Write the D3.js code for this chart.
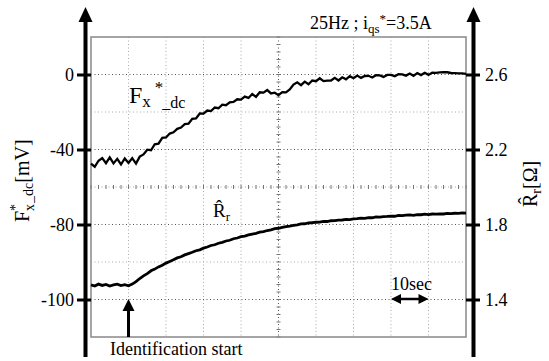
<!DOCTYPE html>
<html><head><meta charset="utf-8">
<script src="https://cdn.jsdelivr.net/npm/d3@7"></script>
<style>
body{margin:0;background:#fff}
svg{display:block}
text{font-family:"Liberation Serif","Times New Roman","DejaVu Serif",serif !important;fill:#000}
</style>
</head><body>
<svg id="c" width="549" height="361"></svg>
<script>
// ---- data (time in seconds, one sample per second) ----
const fxValues = [-47.5,-49.2,-46.0,-44.6,-47.3,-44.2,-47.4,-45.0,-48.0,-44.8,-47.2,-44.6,-47.5,-43.8,
 -42.6,-40.1,-40.4,-37.2,-36.9,-33.8,-33.6,-31.5,-30.8,-29.0,-28.3,-26.5,-26.2,-23.6,-23.4,-20.8,
 -20.9,-19.2,-19.5,-17.6,-18.0,-16.1,-16.4,-14.9,-14.6,-13.2,-13.4,-11.8,-12.5,-10.4,-11.9,-9.5,
 -9.7,-8.3,-10.1,-9.7,-11.0,-9.4,-9.5,-8.0,-5.4,-4.2,-5.7,-3.8,-5.2,-3.2,-3.6,-2.0,-3.5,-3.3,-3.2,
 -1.8,-3.2,-1.5,-2.6,-0.9,-2.0,-0.6,-1.8,-0.8,-0.7,-1.6,-0.4,-0.5,-1.3,-0.2,-0.2,-0.9,0.2,0.1,-0.6,
 0.5,-0.7,0.8,-0.3,0.9,-0.2,1.0,0.9,1.1,1.2,1.2,0.8,0.7,0.6,0.6,0.3];
const rrValues = [1.478,1.472,1.482,1.475,1.480,1.472,1.478,1.482,1.474,1.479,1.473,1.482,
 1.495,1.512,1.526,1.538,1.553,1.562,1.574,1.583,1.594,1.603,1.612,1.622,1.628,1.638,1.645,1.652,
 1.660,1.665,1.674,1.680,1.688,1.692,1.700,1.705,1.712,1.716,1.724,1.728,1.735,1.738,1.745,1.749,
 1.753,1.759,1.762,1.768,1.771,1.778,1.780,1.785,1.789,1.791,1.795,1.798,1.803,1.804,1.808,1.810,
 1.812,1.813,1.817,1.816,1.820,1.821,1.823,1.824,1.827,1.826,1.830,1.831,1.834,1.833,1.837,1.836,
 1.840,1.839,1.842,1.843,1.845,1.844,1.848,1.847,1.850,1.851,1.849,1.853,1.852,1.855,1.853,1.856,
 1.855,1.857,1.856,1.859,1.858,1.860,1.859,1.862,1.861];
const leftTicks = [0,-40,-80,-100];
const rightTicks = [2.6,2.2,1.8,1.4];
const xGrid = [10,20,30,40,50,60,70,80,90];
const yGrid = [2.6,2.4,2.2,2.0,1.8,1.6,1.4];
const identStart = 10;
const scaleBar = [80,90];

const SERIF = '"Liberation Serif","Times New Roman","DejaVu Serif",serif';

// ---- scales ----
const svg = d3.select("#c");
const x = d3.scaleLinear().domain([0,100]).range([91,466]);
const yR = d3.scaleLinear().domain([2.8,1.2]).range([37,337]);
const yL = d3.scaleLinear().domain([20,-80,-100,-110]).range([37,224.5,299.5,337]);

// ---- grid ----
const g = svg.append("g");
g.selectAll(".vg").data(xGrid).join("line")
  .attr("x1",d=>x(d)).attr("x2",d=>x(d)).attr("y1",37).attr("y2",337)
  .attr("stroke",d=>d===50?"#555":"#aaa").attr("stroke-width",1).attr("stroke-dasharray","1,2.5");
g.selectAll(".hg").data(yGrid).join("line")
  .attr("y1",d=>yR(d)).attr("y2",d=>yR(d)).attr("x1",91).attr("x2",466)
  .attr("stroke",(d,i)=>i%2===0?"#555":"#aaa").attr("stroke-width",1).attr("stroke-dasharray","1,2.5");
// minor ticks on centre lines
const minorX = d3.range(0,100.01,2);
g.selectAll(".mx").data(minorX).join("line")
  .attr("x1",d=>x(d)).attr("x2",d=>x(d)).attr("y1",yR(2.0)-2).attr("y2",yR(2.0)+2)
  .attr("stroke","#777").attr("stroke-width",1);
const minorY = d3.range(1.2,2.801,0.04);
g.selectAll(".my").data(minorY).join("line")
  .attr("y1",d=>yR(d)).attr("y2",d=>yR(d)).attr("x1",x(50)-2).attr("x2",x(50)+2)
  .attr("stroke","#777").attr("stroke-width",1);

// frame
svg.append("rect").attr("x",91).attr("y",37).attr("width",375).attr("height",300)
  .attr("fill","none").attr("stroke","#888").attr("stroke-width",1.5);

// ---- traces ----
const lineF = d3.line().x((d,i)=>x(i)).y(d=>yL(d));
const lineR = d3.line().x((d,i)=>x(i)).y(d=>yR(d));
svg.append("path").attr("d",lineF(fxValues)).attr("fill","none").attr("stroke","#000").attr("stroke-width",2.3);
svg.append("path").attr("d",lineR(rrValues)).attr("fill","none").attr("stroke","#000").attr("stroke-width",2.8);

// ---- axes ----
const axL = svg.append("g").attr("transform","translate(91,0)")
  .call(d3.axisLeft(yL).tickValues(leftTicks).tickSize(14).tickPadding(3).tickFormat(d=>String(d)));
const axR = svg.append("g").attr("transform","translate(466,0)")
  .call(d3.axisRight(yR).tickValues(rightTicks).tickSize(14).tickPadding(5).tickFormat(d3.format(".1f")));
[axL,axR].forEach(a=>{
  a.attr("font-family",null);
  a.select(".domain").remove();
  a.selectAll(".tick line").attr("stroke","#000").attr("stroke-width",3);
  a.selectAll(".tick text").style("font-family",SERIF).attr("font-size",18).attr("fill","#000");
});
// thick axis lines with arrows
[85.5,473.5].forEach(ax=>{
  svg.append("line").attr("x1",ax).attr("x2",ax).attr("y1",20).attr("y2",357)
    .attr("stroke","#000").attr("stroke-width",4);
  svg.append("path").attr("d",`M${ax-7},22L${ax},7L${ax+7},22Z`).attr("fill","#000");
});

// ---- titles ----
const t1 = svg.append("text").attr("x",310).attr("y",29).attr("font-size",18);
t1.append("tspan").text("25Hz ; i");
t1.append("tspan").attr("font-size",13).attr("dy",4).text("qs");
t1.append("tspan").attr("font-size",13).attr("dy",-10).text("*");
t1.append("tspan").attr("dy",6).text("=3.5A");

// left axis title
const lt = svg.append("text").attr("transform","translate(29,222) rotate(-90)").attr("font-size",20);
lt.append("tspan").text("F");
lt.append("tspan").attr("font-size",14).attr("dy",-9).text("*");
lt.append("tspan").attr("font-size",14).attr("dx",-7).attr("dy",14).text("x");
lt.append("tspan").attr("font-size",14).attr("dx",1).attr("dy",-1).text("_dc");
lt.append("tspan").attr("font-size",20).attr("dy",-4).text("[mV]");

// right axis title
const rt = svg.append("text").attr("transform","translate(537,207) rotate(-90)").attr("font-size",20);
rt.append("tspan").text("R\u0302");
rt.append("tspan").attr("font-size",14).attr("dy",4).text("r");
rt.append("tspan").attr("dy",-4).text("[Ω]");

// in-plot labels
const fl = svg.append("text").attr("x",129).attr("y",103).attr("font-size",24);
fl.append("tspan").text("F");
fl.append("tspan").attr("font-size",17).attr("dy",4).text("x");
fl.append("tspan").attr("font-size",17).attr("dx",4).attr("dy",-14).text("*");
fl.append("tspan").attr("font-size",16).attr("dx",-1).attr("dy",15).text("_dc");

const rl = svg.append("text").attr("x",213).attr("y",217).attr("font-size",19);
rl.append("tspan").text("R\u0302");
rl.append("tspan").attr("font-size",13).attr("dy",4).text("r");

// identification arrow
svg.append("line").attr("x1",x(identStart)).attr("x2",x(identStart)).attr("y1",308).attr("y2",337)
  .attr("stroke","#000").attr("stroke-width",3);
svg.append("path").attr("d",`M${x(identStart)-6},311L${x(identStart)},299L${x(identStart)+6},311Z`).attr("fill","#000");
svg.append("text").attr("x",110).attr("y",355).attr("font-size",18).text("Identification start");

// 10 sec scale bar
const x0 = x(scaleBar[0]), x1 = x(scaleBar[1]), yb = 299;
svg.append("line").attr("x1",x0+6).attr("x2",x1-6).attr("y1",yb).attr("y2",yb).attr("stroke","#000").attr("stroke-width",2.5);
svg.append("path").attr("d",`M${x0},${yb}L${x0+10},${yb-5}L${x0+10},${yb+5}Z`).attr("fill","#000");
svg.append("path").attr("d",`M${x1},${yb}L${x1-10},${yb-5}L${x1-10},${yb+5}Z`).attr("fill","#000");
svg.append("text").attr("x",391).attr("y",290).attr("font-size",18).text("10sec");
</script>
</body></html>
